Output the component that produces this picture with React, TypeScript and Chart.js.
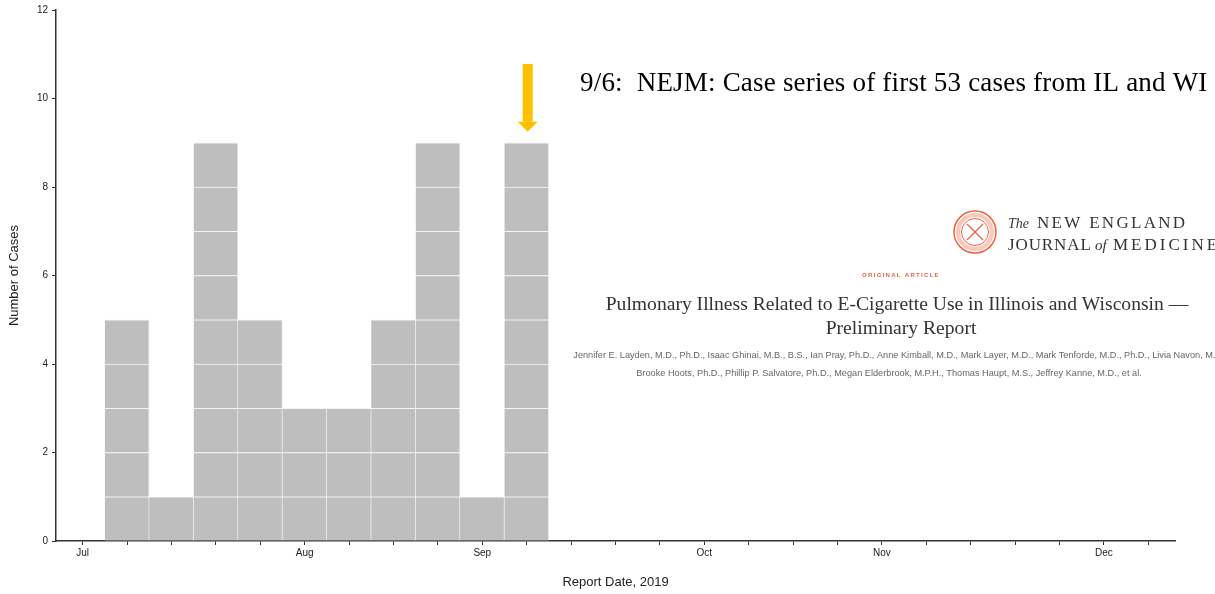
import React, { useEffect, useRef } from "react";
import { Chart, registerables } from "chart.js";

Chart.register(...registerables);

// Week index (0 = first week of July 2019)
const weeks = [0, 1, 2, 3, 4, 5, 6, 7, 8, 9, 10, 11, 12, 13, 14, 15, 16, 17, 18, 19, 20, 21, 22, 23, 24];
const caseCounts = [0, 5, 1, 9, 5, 3, 3, 5, 9, 1, 9, 0, 0, 0, 0, 0, 0, 0, 0, 0, 0, 0, 0, 0, 0];
const tickLabels = ["Jul", "", "", "", "", "Aug", "", "", "", "Sep", "", "", "", "", "Oct", "", "", "", "Nov", "", "", "", "", "Dec", ""];
const yTicks = [0, 2, 4, 6, 8, 10, 12];

const annotationText = "9/6:  NEJM: Case series of first 53 cases from IL and WI";
const arrowWeek = 10;
const arrowTopValue = 10.78;
const arrowTipValue = 9.25;

const nejmLines = {
  kicker: "ORIGINAL ARTICLE",
  title1: "Pulmonary Illness Related to E-Cigarette Use in Illinois and Wisconsin \u2014",
  title2: "Preliminary Report",
  authors1:
    "Jennifer E. Layden, M.D., Ph.D., Isaac Ghinai, M.B., B.S., Ian Pray, Ph.D., Anne Kimball, M.D., Mark Layer, M.D., Mark Tenforde, M.D., Ph.D., Livia Navon, M.S.,",
  authors2:
    "Brooke Hoots, Ph.D., Phillip P. Salvatore, Ph.D., Megan Elderbrook, M.P.H., Thomas Haupt, M.S., Jeffrey Kanne, M.D., et al.",
};

const BAR_COLOR = "#bebebe";
const ARROW_COLOR = "#ffc000";
const NEJM_RED = "#f0603f";

const annotationPlugin = {
  id: "annotations",
  afterDraw(chart: any) {
    const ctx = chart.ctx as CanvasRenderingContext2D;
    const xs = chart.scales.x;
    const ys = chart.scales.y;
    const c: any = ctx;
    ctx.save();

    // Arrow
    const ax = xs.getPixelForValue(arrowWeek) + 1;
    const ay0 = ys.getPixelForValue(arrowTopValue);
    const ay1 = ys.getPixelForValue(arrowTipValue);
    const headH = 10;
    ctx.fillStyle = ARROW_COLOR;
    ctx.fillRect(ax - 5, ay0, 10, ay1 - ay0 - headH);
    ctx.beginPath();
    ctx.moveTo(ax - 10, ay1 - headH);
    ctx.lineTo(ax + 10, ay1 - headH);
    ctx.lineTo(ax, ay1);
    ctx.closePath();
    ctx.fill();

    // Annotation text
    ctx.fillStyle = "#000";
    ctx.font = "27px 'Liberation Serif', 'DejaVu Serif', serif";
    c.letterSpacing = "0.2px";
    ctx.textAlign = "left";
    ctx.textBaseline = "alphabetic";
    ctx.fillText(annotationText, 580, 91);
    c.letterSpacing = "0px";

    // NEJM logo seal
    const cx = 975, cy = 232;
    ctx.strokeStyle = NEJM_RED;
    ctx.fillStyle = NEJM_RED;
    ctx.lineWidth = 1.5;
    ctx.beginPath();
    ctx.arc(cx, cy, 21, 0, Math.PI * 2);
    ctx.stroke();
    ctx.lineWidth = 4;
    ctx.globalAlpha = 0.35;
    ctx.beginPath();
    ctx.arc(cx, cy, 17, 0, Math.PI * 2);
    ctx.stroke();
    ctx.globalAlpha = 1;
    ctx.lineWidth = 1;
    ctx.beginPath();
    ctx.arc(cx, cy, 13.5, 0, Math.PI * 2);
    ctx.stroke();
    ctx.lineWidth = 1.2;
    ctx.beginPath();
    ctx.moveTo(cx - 8, cy - 8);
    ctx.lineTo(cx + 8, cy + 8);
    ctx.moveTo(cx + 8, cy - 8);
    ctx.lineTo(cx - 8, cy + 8);
    ctx.stroke();

    // NEJM masthead
    ctx.fillStyle = "#333";
    ctx.textAlign = "left";
    ctx.font = "italic 14px 'Liberation Serif', serif";
    ctx.fillText("The", 1008, 228);
    ctx.font = "17px 'Liberation Serif', serif";
    c.letterSpacing = "2.3px";
    ctx.fillText("NEW ENGLAND", 1037, 228);
    c.letterSpacing = "0.9px";
    ctx.fillText("JOURNAL", 1008, 250);
    c.letterSpacing = "0px";
    ctx.font = "italic 15px 'Liberation Serif', serif";
    ctx.fillText("of", 1095, 250);
    ctx.font = "17px 'Liberation Serif', serif";
    c.letterSpacing = "3px";
    ctx.fillText("MEDICINE", 1113, 250);
    c.letterSpacing = "0px";

    // Article header
    ctx.textAlign = "center";
    ctx.fillStyle = NEJM_RED;
    ctx.font = "bold 6px 'Liberation Sans', sans-serif";
    c.letterSpacing = "1.3px";
    ctx.fillText(nejmLines.kicker, 901, 277);
    c.letterSpacing = "0px";
    ctx.fillStyle = "#333";
    ctx.font = "19.6px 'Liberation Serif', serif";
    ctx.fillText(nejmLines.title1, 897, 310);
    ctx.fillText(nejmLines.title2, 901, 334);
    ctx.fillStyle = "#666";
    ctx.font = "9.2px 'Liberation Sans', sans-serif";
    ctx.fillText(nejmLines.authors1, 900, 358);
    ctx.fillText(nejmLines.authors2, 889, 376);

    ctx.restore();
  },
};

export default function App() {
  const ref = useRef<HTMLCanvasElement | null>(null);

  useEffect(() => {
    if (!ref.current) return;
    const maxCount = Math.max(...caseCounts);
    const layers: number[] = [];
    for (let k = 1; k <= maxCount; k++) layers.push(k);
    const datasets = layers.map((k) => ({
      label: "Cases layer " + k,
      data: weeks.map((w, i) => ({ x: w, y: caseCounts[i] >= k ? [k - 1, k] : null })),
      backgroundColor: BAR_COLOR,
      borderColor: "#f4f4f4",
      borderWidth: { top: 1, right: 1, left: 0, bottom: 0 },
      borderSkipped: false,
      barPercentage: 1,
      categoryPercentage: 1,
      grouped: false,
    }));

    const chart = new Chart(ref.current, {
      type: "bar",
      data: { datasets: datasets as any },
      plugins: [annotationPlugin],
      options: {
        responsive: false,
        animation: false,
        layout: { padding: { top: 8, right: 40, left: 0, bottom: 0 } },
        plugins: { legend: { display: false }, tooltip: { enabled: false } },
        scales: {
          x: {
            type: "linear",
            min: -0.6,
            max: 24.6,
            offset: false,
            grid: { display: true, offset: false, drawOnChartArea: false, tickLength: 4, color: "#333" },
            border: { display: true, color: "#333", width: 1.5 },
            afterBuildTicks: (scale: any) => {
              scale.ticks = weeks.map((w) => ({ value: w }));
            },
            afterFit: (scale: any) => {
              scale.height = 53;
            },
            ticks: {
              autoSkip: false,
              maxRotation: 0,
              padding: 2,
              color: "#222",
              font: { family: "'Liberation Sans', Arial, sans-serif", size: 10 },
              callback: (value: any) => {
                const idx = weeks.indexOf(Number(value));
                return idx >= 0 ? tickLabels[idx] : "";
              },
            },
            title: {
              display: true,
              text: "Report Date, 2019",
              color: "#222",
              padding: { top: 12, bottom: 4 },
              font: { family: "'Liberation Sans', Arial, sans-serif", size: 13 },
            },
          },
          y: {
            type: "linear",
            min: 0,
            max: 12,
            grid: { display: true, drawOnChartArea: false, tickLength: 4, color: "#333" },
            border: { display: true, color: "#333", width: 1.5 },
            afterBuildTicks: (scale: any) => {
              scale.ticks = yTicks.map((v) => ({ value: v }));
            },
            afterFit: (scale: any) => {
              scale.width = 56;
            },
            ticks: {
              padding: 4,
              color: "#222",
              font: { family: "'Liberation Sans', Arial, sans-serif", size: 10 },
            },
            title: {
              display: true,
              text: "Number of Cases",
              color: "#222",
              padding: { top: 7, bottom: 10 },
              font: { family: "'Liberation Sans', Arial, sans-serif", size: 13 },
            },
          },
        },
      },
    });
    return () => chart.destroy();
  }, []);

  return (
    <div style={{ position: "fixed", left: 0, top: 0, width: 1215, height: 594, background: "#fff" }}>
      <canvas ref={ref} width={1215} height={594} style={{ display: "block" }} />
    </div>
  );
}
